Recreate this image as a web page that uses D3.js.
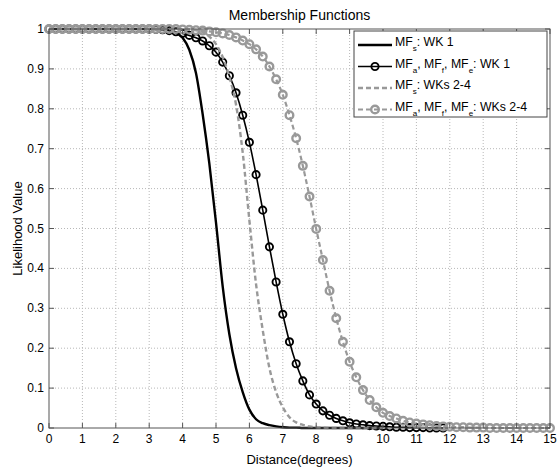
<!DOCTYPE html>
<html lang="en">
<head>
    <meta charset="UTF-8">
    <title>Membership Functions</title>
    <style>
        body { margin: 0; background: #fff; }
        text { font-family: "Liberation Sans", Arial, Helvetica, sans-serif; fill: #000; }
    </style>
</head>
<body>
<div id="chart"></div>
<script src="https://d3js.org/d3.v7.min.js"></script>
<script>
    // x samples (degrees)
    const distance = [0, 0.2, 0.4, 0.6, 0.8, 1, 1.2, 1.4, 1.6, 1.8, 2, 2.2, 2.4, 2.6, 2.8, 3, 3.2, 3.4, 3.6, 3.8,
        4, 4.2, 4.4, 4.6, 4.8, 5, 5.2, 5.4, 5.6, 5.8, 6, 6.2, 6.4, 6.6, 6.8, 7, 7.2, 7.4, 7.6, 7.8,
        8, 8.2, 8.4, 8.6, 8.8, 9, 9.2, 9.4, 9.6, 9.8, 10, 10.2, 10.4, 10.6, 10.8, 11, 11.2, 11.4, 11.6, 11.8,
        12, 12.2, 12.4, 12.6, 12.8, 13, 13.2, 13.4, 13.6, 13.8, 14, 14.2, 14.4, 14.6, 14.8, 15];

    // MFs: WK 1 (0 .. 10)
    const mfsWk1 = [1, 1, 1, 1, 1, 1, 1, 1, 1, 1, 1, 1, 1, 1, 1, 1, 1, 1,
        0.997, 0.991, 0.978, 0.948, 0.89, 0.787, 0.663, 0.515, 0.355, 0.235, 0.15, 0.09,
        0.046, 0.022, 0.012, 0.007, 0.004, 0.002, 0.001, 0.001,
        0, 0, 0, 0, 0, 0, 0, 0, 0, 0, 0, 0, 0];

    // MFa, MFf, MFe: WK 1 (0 .. 11.8)
    const mfaWk1 = [1, 1, 1, 1, 1, 1, 1, 1, 1, 1, 1, 1, 1, 1, 1, 1,
        0.999, 0.998, 0.996, 0.993, 0.989, 0.984, 0.978, 0.97, 0.958, 0.942, 0.917, 0.883, 0.84, 0.784,
        0.716, 0.635, 0.546, 0.454, 0.366, 0.285, 0.216, 0.161, 0.118, 0.083,
        0.06, 0.043, 0.032, 0.024, 0.018, 0.013, 0.01, 0.008, 0.006, 0.005,
        0.004, 0.003, 0.002, 0.002, 0.001, 0.001, 0.001, 0, 0, 0];

    // MFs: WKs 2-4 (0 .. 10)
    const mfsWks24 = [1, 1, 1, 1, 1, 1, 1, 1, 1, 1, 1, 1, 1, 1, 1, 1, 1, 1, 1, 1, 1,
        0.999, 0.997, 0.992, 0.981, 0.962, 0.93, 0.88, 0.81, 0.69,
        0.52, 0.36, 0.245, 0.15, 0.09, 0.052, 0.027, 0.014, 0.008, 0.004,
        0.002, 0.001, 0, 0, 0, 0, 0, 0, 0, 0, 0];

    // MFa, MFf, MFe: WKs 2-4 (0 .. 15)
    const mfaWks24 = [1, 1, 1, 1, 1, 1, 1, 1, 1, 1, 1, 1, 1, 1, 1, 1, 1, 1, 1, 1,
        0.999, 0.998, 0.997, 0.996, 0.994, 0.992, 0.989, 0.985, 0.979, 0.971,
        0.962, 0.949, 0.931, 0.906, 0.874, 0.835, 0.784, 0.726, 0.657, 0.58,
        0.499, 0.421, 0.344, 0.275, 0.216, 0.166, 0.127, 0.095, 0.07, 0.052,
        0.038, 0.03, 0.024, 0.018, 0.014, 0.011, 0.009, 0.007, 0.005, 0.004,
        0.003, 0.002, 0.002, 0.001, 0.001, 0.001, 0, 0, 0, 0, 0, 0, 0, 0, 0, 0];

    const xTicks = [0, 1, 2, 3, 4, 5, 6, 7, 8, 9, 10, 11, 12, 13, 14, 15];
    const yTicks = [0, 0.1, 0.2, 0.3, 0.4, 0.5, 0.6, 0.7, 0.8, 0.9, 1];

    const W = 557, H = 468;
    const margin = {top: 29, right: 7, bottom: 40, left: 49};
    const width = W - margin.left - margin.right,
        height = H - margin.top - margin.bottom;
    const gray = "#999999";

    const svg = d3.select("#chart").append("svg")
        .attr("width", W).attr("height", H);

    const g = svg.append("g")
        .attr("transform", `translate(${margin.left},${margin.top})`);

    const x = d3.scaleLinear().domain([0, 15]).range([0, width]);
    const y = d3.scaleLinear().domain([0, 1]).range([height, 0]);

    // grid (dotted)
    g.append("g").selectAll("line").data(xTicks.slice(1, -1)).join("line")
        .attr("x1", d => x(d)).attr("x2", d => x(d))
        .attr("y1", 0).attr("y2", height)
        .attr("stroke", "#b8b8b8").attr("stroke-dasharray", "1,2");
    g.append("g").selectAll("line").data(yTicks.slice(1, -1)).join("line")
        .attr("y1", d => y(d)).attr("y2", d => y(d))
        .attr("x1", 0).attr("x2", width)
        .attr("stroke", "#b8b8b8").attr("stroke-dasharray", "1,2");

    const series = [
        {name: "s1", vals: mfsWk1, color: "#000", width: 2.4, dash: null, marker: false},
        {name: "a1", vals: mfaWk1, color: "#000", width: 1.6, dash: null, marker: true, r: 3.6, mw: 1.9},
        {name: "s2", vals: mfsWks24, color: gray, width: 2.4, dash: "5,3", marker: false},
        {name: "a2", vals: mfaWks24, color: gray, width: 2.2, dash: "5,3", marker: true, r: 3.8, mw: 2.4}
    ];

    const line = d3.line()
        .x(d => x(d[0]))
        .y(d => y(d[1]))
        .curve(d3.curveMonotoneX);

    series.forEach(s => {
        const pts = s.vals.map((v, i) => [distance[i], v]);
        g.append("path")
            .datum(pts)
            .attr("fill", "none")
            .attr("stroke", s.color)
            .attr("stroke-width", s.width)
            .attr("stroke-dasharray", s.dash)
            .attr("d", line);
        if (s.marker) {
            g.append("g").selectAll("circle").data(pts).join("circle")
                .attr("cx", d => x(d[0]))
                .attr("cy", d => y(d[1]))
                .attr("r", s.r)
                .attr("fill", "none")
                .attr("stroke", s.color)
                .attr("stroke-width", s.mw);
        }
    });

    // axes box with inward ticks, MATLAB style
    const axisColor = "#555";
    g.append("rect").attr("x", 0).attr("y", 0).attr("width", width).attr("height", height)
        .attr("fill", "none").attr("stroke", axisColor).attr("stroke-width", 1);

    const tickLen = 5;
    xTicks.forEach(t => {
        g.append("line").attr("x1", x(t)).attr("x2", x(t)).attr("y1", height).attr("y2", height - tickLen)
            .attr("stroke", axisColor);
        g.append("line").attr("x1", x(t)).attr("x2", x(t)).attr("y1", 0).attr("y2", tickLen)
            .attr("stroke", axisColor);
        g.append("text").attr("x", x(t)).attr("y", height + 15)
            .attr("text-anchor", "middle").style("font-size", "12px").text(t);
    });
    yTicks.forEach(t => {
        g.append("line").attr("x1", 0).attr("x2", tickLen).attr("y1", y(t)).attr("y2", y(t))
            .attr("stroke", axisColor);
        g.append("line").attr("x1", width).attr("x2", width - tickLen).attr("y1", y(t)).attr("y2", y(t))
            .attr("stroke", axisColor);
        g.append("text").attr("x", -5).attr("y", y(t) + 4)
            .attr("text-anchor", "end").style("font-size", "12px").text(t);
    });

    // title and labels
    svg.append("text").attr("x", margin.left + width / 2).attr("y", 20)
        .attr("text-anchor", "middle").style("font-size", "14px").text("Membership Functions");
    svg.append("text").attr("x", margin.left + width / 2).attr("y", 464)
        .attr("text-anchor", "middle").style("font-size", "13px").text("Distance(degrees)");
    svg.append("text")
        .attr("transform", `translate(22,${margin.top + height / 2}) rotate(-90)`)
        .attr("text-anchor", "middle").style("font-size", "13px").text("Likelihood Value");

    // legend
    const legendItems = [
        {parts: [["MF", ""], ["s", "sub"], [": WK 1", ""]], s: series[0]},
        {parts: [["MF", ""], ["a", "sub"], [", MF", ""], ["f", "sub"], [", MF", ""], ["e", "sub"], [": WK 1", ""]], s: series[1]},
        {parts: [["MF", ""], ["s", "sub"], [": WKs 2-4", ""]], s: series[2]},
        {parts: [["MF", ""], ["a", "sub"], [", MF", ""], ["f", "sub"], [", MF", ""], ["e", "sub"], [": WKs 2-4", ""]], s: series[3]}
    ];
    const lg = svg.append("g").attr("transform", "translate(354,31)");
    lg.append("rect").attr("width", 193).attr("height", 86)
        .attr("fill", "#fff").attr("stroke", "#444").attr("stroke-width", 1);
    legendItems.forEach((item, i) => {
        const cy = 14 + i * 21.5;
        lg.append("line").attr("x1", 4).attr("x2", 38).attr("y1", cy).attr("y2", cy)
            .attr("stroke", item.s.color).attr("stroke-width", item.s.width)
            .attr("stroke-dasharray", item.s.dash);
        if (item.s.marker) {
            lg.append("circle").attr("cx", 21).attr("cy", cy).attr("r", item.s.r)
                .attr("fill", "none").attr("stroke", item.s.color)
                .attr("stroke-width", item.s.mw);
        }
        const txt = lg.append("text").attr("x", 41).attr("y", cy + 1).style("font-size", "12.3px");
        let prevSub = false;
        item.parts.forEach(p => {
            const ts = txt.append("tspan").text(p[0]);
            if (p[1] === "sub") {
                ts.attr("dy", 5).style("font-size", "8px");
                prevSub = true;
            } else if (prevSub) {
                ts.attr("dy", -5);
                prevSub = false;
            }
        });
    });
</script>
</body>
</html>
